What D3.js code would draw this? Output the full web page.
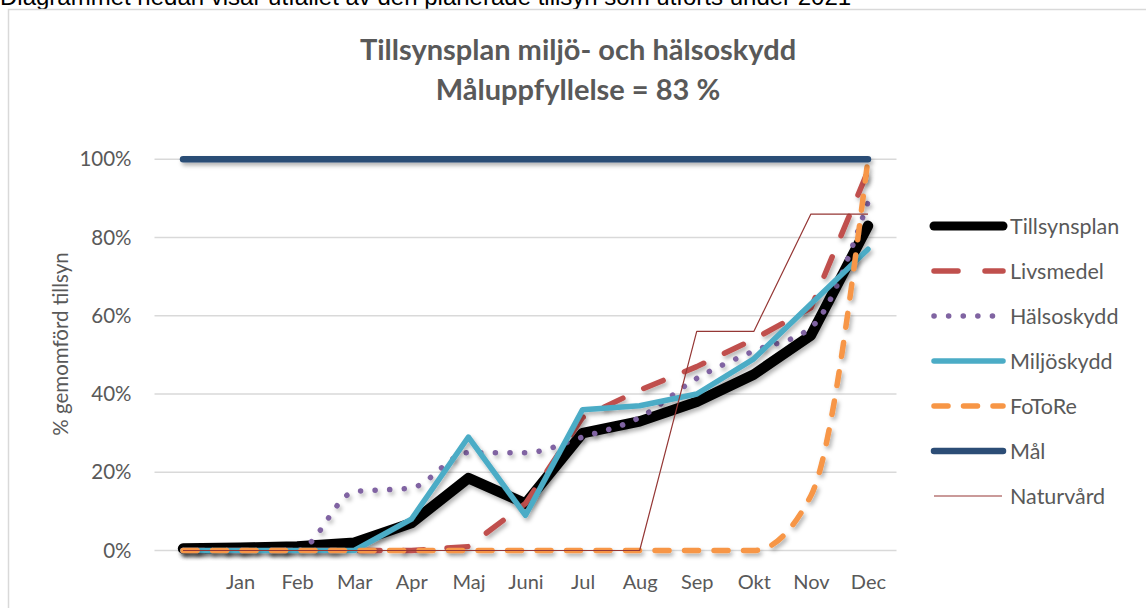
<!DOCTYPE html>
<html>
<head>
<meta charset="utf-8">
<script src="https://cdn.jsdelivr.net/npm/d3@7/dist/d3.min.js"></script>
<style>
  body { margin: 0; background: #fff; }
  svg { display: block; }
</style>
</head>
<body>
<div id="container"></div>
<script>
// define constants
const WIDTH = 1146;
const HEIGHT = 608;
const TEXT_COLOR = "#595959";
const FONT = "Lato, 'Open Sans', sans-serif";

// data (percent)
const months = ["", "Jan", "Feb", "Mar", "Apr", "Maj", "Juni", "Jul", "Aug", "Sep", "Okt", "Nov", "Dec"];
const tillsynsplan = [0.5, 0.7, 1, 2, 7, 18.5, 12, 30, 33, 38, 45, 55, 83];
const livsmedel = [0, 0, 0, 0, 0, 1, 12, 34, 41, 47, 54, 62, 97];
const halsoskydd = [0, 0, 0, 15, 16, 25, 25, 29, 34, 44, 51, 57, 89];
const miljoskydd = [0, 0, 0, 0, 8, 29, 9, 36, 37, 40, 49, 63, 77];
const fotore = [0, 0, 0, 0, 0, 0, 0, 0, 0, 0, 0, 14, 100];
const mal = [100, 100, 100, 100, 100, 100, 100, 100, 100, 100, 100, 100, 100];
const naturvard = [0, 0, 0, 0, 0, 0, 0, 0, 0, 56, 56, 86, 86];
const yTicks = [0, 20, 40, 60, 80, 100];

// one entry per series, in drawing order (later on top)
const series = [
    { name: "Tillsynsplan", values: tillsynsplan, color: "#000000", width: 10.5, dash: null, smooth: false, shadow: true },
    { name: "Livsmedel", values: livsmedel, color: "#C0504D", width: 5.5, dash: "21,23", smooth: false, shadow: true },
    { name: "Hälsoskydd", values: halsoskydd, color: "#8064A2", width: 5.5, dash: "0.1,14.5", smooth: true, shadow: true },
    { name: "Miljöskydd", values: miljoskydd, color: "#4BACC6", width: 5.5, dash: null, smooth: false, shadow: true },
    { name: "FoToRe", values: fotore, color: "#F79646", width: 5.5, dash: "14,15.5", smooth: true, shadow: true },
    { name: "Mål", values: mal, color: "#2C4D76", width: 6.5, dash: null, smooth: false, shadow: true },
    { name: "Naturvård", values: naturvard, color: "#953735", width: 1.2, dash: null, smooth: false, shadow: false }
];

// create svg element
const svg = d3.select("#container")
    .append("svg")
    .attr("width", WIDTH)
    .attr("height", HEIGHT);

// soft drop shadow like the office chart
const filter = svg.append("defs").append("filter")
    .attr("id", "shadow")
    .attr("filterUnits", "userSpaceOnUse")
    .attr("x", 0).attr("y", 0)
    .attr("width", WIDTH).attr("height", HEIGHT);
filter.append("feDropShadow")
    .attr("dx", 2)
    .attr("dy", 3)
    .attr("stdDeviation", 2.2)
    .attr("flood-color", "#000")
    .attr("flood-opacity", 0.3);

// intro sentence, cut at the top of the picture
svg.append("text")
    .attr("x", 0)
    .attr("y", 5)
    .attr("font-family", "'Liberation Sans', Arial, sans-serif")
    .attr("font-size", 24)
    .attr("fill", "#000")
    .text("Diagrammet nedan visar utfallet av den planerade tillsyn som utförts under 2021");

// chart frame
svg.append("rect")
    .attr("x", 8.5)
    .attr("y", 9.5)
    .attr("width", 1300)
    .attr("height", 800)
    .attr("fill", "#fff")
    .attr("stroke", "#d9d9d9")
    .attr("stroke-width", 1.5);

// scales
const xScale = d3.scalePoint()
    .domain(months)
    .range([154.5, 896.5])
    .padding(0.5);

const yScale = d3.scaleLinear()
    .domain([0, 100])
    .range([550.5, 159.3]);

// gridlines
svg.append("g")
    .selectAll("line")
    .data(yTicks)
    .enter()
    .append("line")
    .attr("x1", 154.5)
    .attr("x2", 896.5)
    .attr("y1", (d) => yScale(d))
    .attr("y2", (d) => yScale(d))
    .attr("stroke", "#d9d9d9")
    .attr("stroke-width", 1.5);

// y axis
const leftAxis = d3.axisLeft(yScale)
    .tickValues(yTicks)
    .tickSize(0)
    .tickPadding(23)
    .tickFormat((d) => d + "%");

const yAxisG = svg.append("g")
    .attr("transform", "translate(154.5,0)")
    .call(leftAxis);
yAxisG.select(".domain").remove();
yAxisG.selectAll("text")
    .attr("font-family", FONT)
    .attr("font-size", 20.5)
    .attr("fill", TEXT_COLOR);

// x axis
const bottomAxis = d3.axisBottom(xScale)
    .tickSize(0)
    .tickPadding(24);

const xAxisG = svg.append("g")
    .attr("transform", "translate(0,550.5)")
    .call(bottomAxis);
xAxisG.select(".domain").remove();
xAxisG.selectAll("text")
    .attr("font-family", FONT)
    .attr("font-size", 20)
    .attr("fill", TEXT_COLOR);

// label y axis
svg.append("text")
    .attr("transform", "translate(60,344) rotate(-90)")
    .attr("text-anchor", "middle")
    .attr("dominant-baseline", "central")
    .attr("font-family", FONT)
    .attr("font-size", 20.5)
    .attr("fill", TEXT_COLOR)
    .text("% gemomförd tillsyn");

// title
const title = svg.append("text")
    .attr("text-anchor", "middle")
    .attr("font-family", FONT)
    .attr("font-weight", "bold")
    .attr("font-size", 29)
    .attr("fill", TEXT_COLOR);
title.append("tspan").attr("x", 578).attr("y", 60).text("Tillsynsplan miljö- och hälsoskydd");
title.append("tspan").attr("x", 578).attr("y", 100).text("Måluppfyllelse = 83 %");

// lines
const straight = d3.line()
    .x((d, i) => xScale(months[i]))
    .y((d) => yScale(d));
const curved = d3.line()
    .x((d, i) => xScale(months[i]))
    .y((d) => yScale(d))
    .curve(d3.curveMonotoneX);

svg.append("g")
    .selectAll("path")
    .data(series)
    .enter()
    .append("path")
    .attr("d", (s) => (s.smooth ? curved : straight)(s.values))
    .attr("fill", "none")
    .attr("stroke", (s) => s.color)
    .attr("stroke-width", (s) => s.width)
    .attr("stroke-dasharray", (s) => s.dash)
    .attr("stroke-linecap", (s) => s.width > 2 ? "round" : "butt")
    .attr("stroke-linejoin", "round")
    .attr("filter", (s) => s.shadow ? "url(#shadow)" : null);

// legend
const legend = svg.append("g")
    .selectAll("g")
    .data(series)
    .enter()
    .append("g")
    .attr("transform", (d, i) => "translate(0," + (226 + i * 45) + ")");

legend.append("line")
    .attr("x1", 934)
    .attr("x2", (s) => s.width > 2 ? 1003 : 1002)
    .attr("stroke", (s) => s.color)
    .attr("stroke-width", (s) => Math.min(s.width, 9))
    .attr("stroke-dasharray", (s) => s.name === "Livsmedel" ? "24,27" : s.dash)
    .attr("stroke-linecap", (s) => s.width > 2 ? "round" : "butt");

legend.append("text")
    .attr("x", 1010)
    .attr("dominant-baseline", "central")
    .attr("font-family", FONT)
    .attr("font-size", 21.5)
    .attr("fill", TEXT_COLOR)
    .text((s) => s.name);
</script>
</body>
</html>
